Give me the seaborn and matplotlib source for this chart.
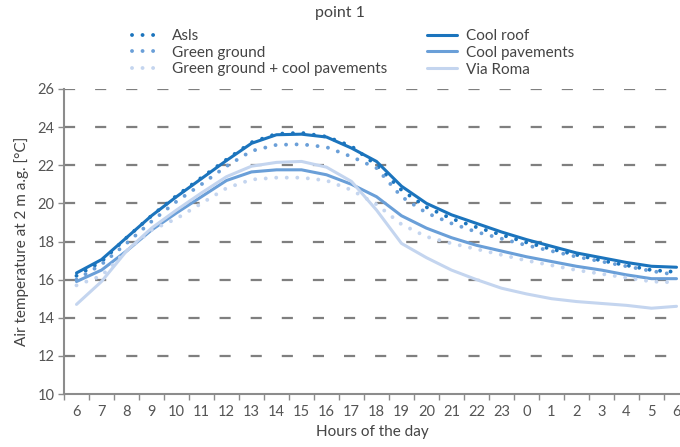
import numpy as np
import pandas as pd
import matplotlib
matplotlib.use("Agg")
import matplotlib.pyplot as plt
import seaborn as sns
from matplotlib.ticker import FixedLocator

hours = [6, 7, 8, 9, 10, 11, 12, 13, 14, 15, 16, 17, 18, 19, 20, 21, 22, 23, 0, 1, 2, 3, 4, 5, 6]

asls = [16.2, 16.95, 18.2, 19.35, 20.4, 21.35, 22.3, 23.2, 23.65, 23.7, 23.5, 23.0, 22.0, 20.7, 19.8, 19.2,
        18.75, 18.35, 17.95, 17.6, 17.3, 17.0, 16.75, 16.5, 16.4]
green_ground = [16.0, 16.8, 17.9, 19.05, 20.1, 21.0, 21.95, 22.75, 23.07, 23.1, 22.95, 22.45, 21.85, 20.35, 19.5,
                18.95, 18.5, 18.15, 17.8, 17.5, 17.2, 16.95, 16.7, 16.45, 16.25]
gg_cool_pav = [15.7, 16.2, 17.5, 18.6, 19.2, 20.0, 20.8, 21.25, 21.35, 21.35, 21.2, 20.7, 19.95, 18.9, 18.25,
               17.9, 17.6, 17.3, 17.0, 16.75, 16.5, 16.3, 16.1, 15.9, 15.85]
cool_roof = [16.35, 17.05, 18.2, 19.35, 20.35, 21.3, 22.25, 23.15, 23.6, 23.63, 23.48, 22.9, 22.2, 20.9, 20.0,
             19.4, 18.95, 18.5, 18.1, 17.75, 17.4, 17.15, 16.9, 16.7, 16.65]
cool_pav = [15.9, 16.5, 17.5, 18.6, 19.5, 20.35, 21.2, 21.65, 21.76, 21.76, 21.5, 21.0, 20.35, 19.35, 18.7,
            18.2, 17.8, 17.5, 17.2, 16.95, 16.7, 16.5, 16.25, 16.05, 16.05]
via_roma = [14.7, 15.9, 17.5, 18.7, 19.65, 20.55, 21.4, 21.95, 22.15, 22.2, 21.9, 21.15, 19.65, 17.9, 17.15,
            16.5, 16.0, 15.55, 15.25, 15.0, 14.85, 14.75, 14.65, 14.5, 14.6]

dark = "#1b74bd"
mid = "#6a9fd8"
light = "#c4d5ef"

series = [
    ("Asls", asls, dark, "dot"),
    ("Green ground", green_ground, mid, "dot"),
    ("Green ground + cool pavements", gg_cool_pav, light, "dot"),
    ("Cool roof", cool_roof, dark, "solid"),
    ("Cool pavements", cool_pav, mid, "solid"),
    ("Via Roma", via_roma, light, "solid"),
]

sns.set_style("white")
plt.rcParams['font.family'] = ['Lato', 'DejaVu Sans']

fig = plt.figure(figsize=(6.8, 4.47), dpi=100)
ax = fig.add_axes([64 / 680, 1 - 394 / 447, 1 - 64 / 680, (394 - 89) / 447])

pos = np.arange(len(hours))
# solid lines first, dotted on top
for name, vals, col, kind in sorted(series, key=lambda s: s[3] == "dot"):
    df = pd.DataFrame({"x": pos, "y": vals})
    if kind == "dot":
        sns.lineplot(data=df, x="x", y="y", ax=ax, color=col, lw=2.8,
                     linestyle=(0, (0.01, 2.7)), dash_capstyle="round", label=name)
    else:
        sns.lineplot(data=df, x="x", y="y", ax=ax, color=col, lw=2.2, label=name)

ax.set_ylim(10, 26)
ax.set_yticks(range(10, 27, 2))
ax.set_xlim(-0.5, -0.5 + (680 - 64) / 25)
ax.xaxis.set_major_locator(FixedLocator(np.arange(-0.5, 25, 1)))
ax.set_xticklabels([])
ax.xaxis.set_minor_locator(FixedLocator(pos))
ax.set_xticklabels([str(h) for h in hours], minor=True)
ax.tick_params(axis="x", which="major", length=4, width=1, color="#8c8c8c", direction="out")
ax.tick_params(axis="x", which="minor", length=0, labelsize=10.5, labelcolor="#555555", pad=8)
ax.tick_params(axis="y", length=4, width=1, color="#8c8c8c", direction="out", labelsize=10.5,
               labelcolor="#555555", pad=3)
ax.xaxis.set_ticks_position("bottom")
ax.yaxis.set_ticks_position("left")

for y in range(12, 27, 2):
    ax.axhline(y, color="#7f7f7f", lw=1.6, dashes=(5, 9), zorder=0)

for s in ["top", "right"]:
    ax.spines[s].set_visible(False)
for s in ["left", "bottom"]:
    ax.spines[s].set_color("#8c8c8c")
    ax.spines[s].set_linewidth(1.5)

ax.set_xlabel("Hours of the day", fontsize=11, color="#444444", labelpad=4)
ax.set_ylabel("Air temperature at 2 m a.g. [°C]", fontsize=11, color="#444444", labelpad=6)

handles, labels = ax.get_legend_handles_labels()
order = [labels.index(s[0]) for s in series]
ax.get_legend().remove()
fig.legend([handles[i] for i in order], [labels[i] for i in order], ncol=2, frameon=False,
           loc="upper left", bbox_to_anchor=(132 / 680, 1 - 29 / 447), fontsize=11,
           handlelength=2.0, handletextpad=0.6, labelspacing=0.18, columnspacing=2.6,
           labelcolor="#444444", borderaxespad=0, borderpad=0)

fig.text(0.5, 1 - 13 / 447, "point 1", ha="center", va="center", fontsize=11.5, color="#444444")

fig.savefig("out.png", dpi=100)
